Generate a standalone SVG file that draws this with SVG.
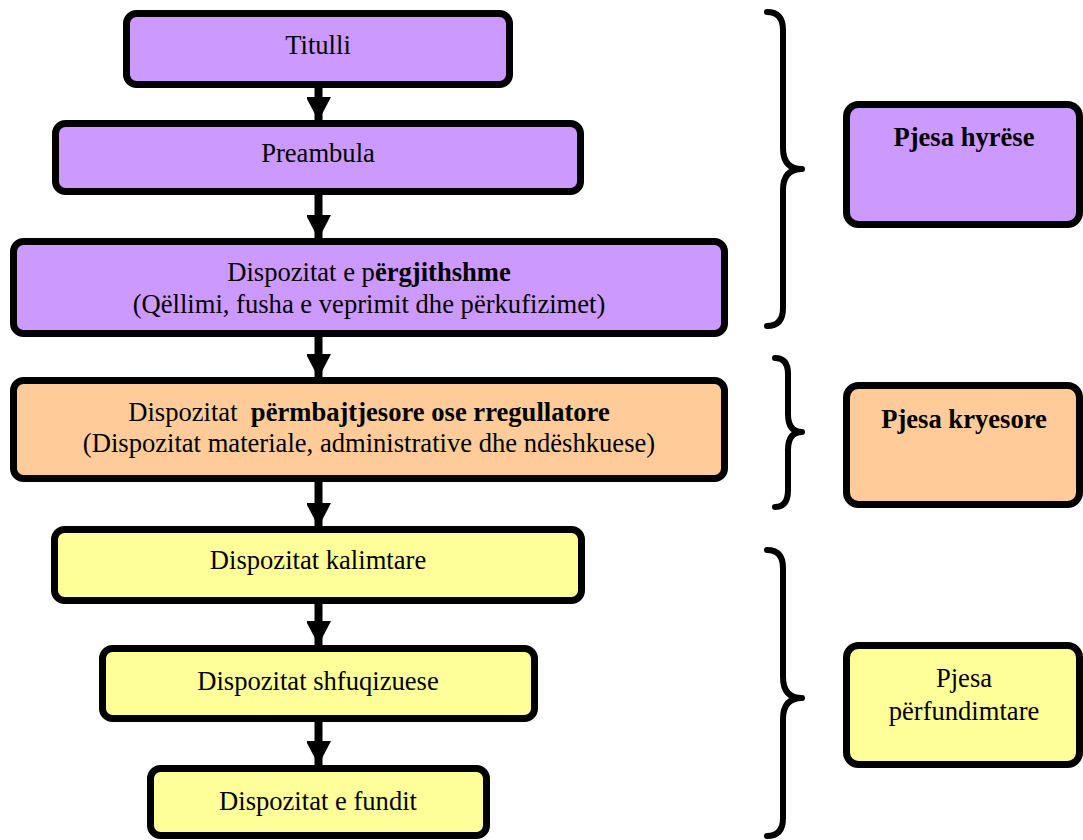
<svg xmlns="http://www.w3.org/2000/svg" width="1083" height="840" viewBox="0 0 1083 840">
<style>
.box{stroke:#000;stroke-width:7}
.p{fill:#CC99FF}.o{fill:#FFCC99}.y{fill:#FFFF99}
.t{font-family:'Liberation Serif','Times New Roman','DejaVu Serif',serif;font-size:26.6px;fill:#000;text-anchor:middle}
.b{font-weight:bold}
.brace{fill:none;stroke:#000;stroke-width:6;stroke-linecap:round;stroke-linejoin:round}
</style>
<defs>
<marker id="ah" markerWidth="25" markerHeight="24" refX="24" refY="12.5" orient="auto" markerUnits="userSpaceOnUse">
<path d="M0,0 L24,12.5 L0,25 Z" fill="#000"/>
</marker>
</defs>
<rect width="1083" height="840" fill="#fff"/>
<g id="connectors" stroke="#000" stroke-width="8" marker-end="url(#ah)">
<line x1="318.5" y1="88" x2="318.5" y2="121"/>
<line x1="318.5" y1="195" x2="318.5" y2="239"/>
<line x1="318.5" y1="337" x2="318.5" y2="378"/>
<line x1="318.5" y1="482" x2="318.5" y2="527"/>
<line x1="318.5" y1="604" x2="318.5" y2="645"/>
<line x1="318.5" y1="722" x2="318.5" y2="765"/>
</g>
<g font-family="Liberation Serif, serif" font-size="26.6">
<g id="titulli"><rect class="box p" x="126.5" y="13.5" width="383" height="71" rx="10"/><text class="t" x="318" y="54">Titulli</text></g>
<g id="preambula"><rect class="box p" x="55.5" y="123.5" width="525" height="68" rx="10"/><text class="t" x="318" y="162">Preambula</text></g>
<g id="pergjithshme"><rect class="box p" x="13.5" y="241.5" width="711" height="92" rx="10"/>
<text class="t" x="369" y="281">Dispozitat e p<tspan class="b">ërgjithshme</tspan></text>
<text class="t" x="369" y="313">(Qëllimi, fusha e veprimit dhe përkufizimet)</text></g>
<g id="permbajtjesore"><rect class="box o" x="13.5" y="380.5" width="711" height="98" rx="10"/>
<text class="t" x="369" y="421" xml:space="preserve">Dispozitat  <tspan class="b">përmbajtjesore ose rregullatore</tspan></text>
<text class="t" x="369" y="452">(Dispozitat materiale, administrative dhe ndëshkuese)</text></g>
<g id="kalimtare"><rect class="box y" x="54.5" y="529.5" width="527" height="71" rx="10"/><text class="t" x="318" y="569">Dispozitat kalimtare</text></g>
<g id="shfuqizuese"><rect class="box y" x="102.5" y="648.5" width="432" height="70" rx="10"/><text class="t" x="318" y="690">Dispozitat shfuqizuese</text></g>
<g id="fundit"><rect class="box y" x="150.5" y="768.5" width="336" height="67" rx="10"/><text class="t" x="318" y="810">Dispozitat e fundit</text></g>
<g id="brace-hyrese"><path class="brace" d="M767,12 Q783,12 783,30 L783,148 Q783,169 802,169 Q783,169 783,190 L783,308 Q783,326 767,326"/></g>
<g id="brace-kryesore"><path class="brace" d="M775,358 Q788,358 788,374 L788,414 Q788,432 802,432 Q788,432 788,450 L788,490 Q788,507 775,507"/></g>
<g id="brace-perfundimtare"><path class="brace" d="M767,550 Q783,550 783,568 L783,677 Q783,698 802,698 Q783,698 783,719 L783,818 Q783,836 767,836"/></g>
<g id="pjesa-hyrese"><rect class="box p" x="846.5" y="104.5" width="233" height="120" rx="12"/><text class="t b" x="964" y="146">Pjesa hyrëse</text></g>
<g id="pjesa-kryesore"><rect class="box o" x="846.5" y="385.5" width="233" height="119" rx="12"/><text class="t b" x="964" y="428">Pjesa kryesore</text></g>
<g id="pjesa-perfundimtare"><rect class="box y" x="846.5" y="645.5" width="233" height="119" rx="12"/><text class="t" x="964" y="687">Pjesa</text><text class="t" x="964" y="720">përfundimtare</text></g>
</g>
</svg>
